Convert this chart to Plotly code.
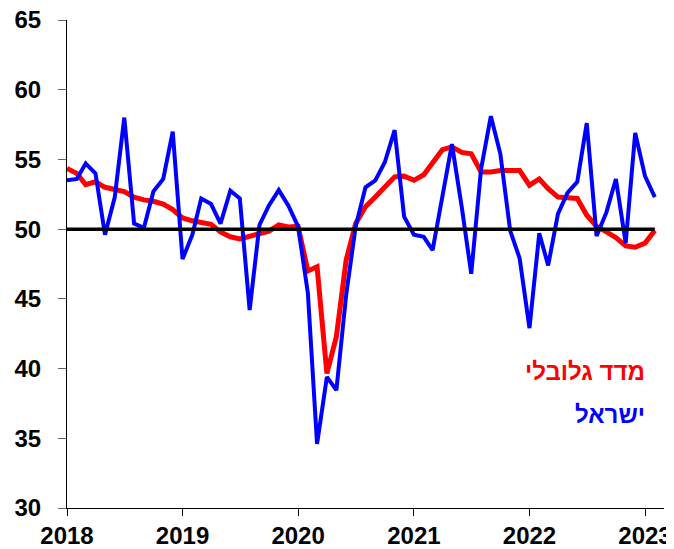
import plotly.graph_objects as go
import pandas as pd

# Monthly dates Jan 2018 .. Feb 2023
months = pd.date_range("2018-01-01", periods=62, freq="MS")

global_index = [
    54.35, 54.0, 53.2, 53.4, 53.0, 52.85, 52.7, 52.3, 52.1, 52.0, 51.8, 51.4,
    50.8, 50.6, 50.45, 50.35, 49.8, 49.45, 49.3, 49.5, 49.75, 49.85, 50.3, 50.15,
    50.2, 47.0, 47.3, 39.65, 42.3, 47.8, 50.4, 51.6, 52.3, 53.0, 53.75, 53.8,
    53.5, 53.9, 54.8, 55.7, 55.9, 55.5, 55.4, 54.1, 54.1, 54.2, 54.2, 54.2,
    53.15, 53.6, 52.9, 52.3, 52.25, 52.2, 51.0, 50.2, 49.8, 49.4, 48.8, 48.7,
    49.0, 49.9,
]

israel = [
    53.5, 53.6, 54.7, 54.0, 49.6, 52.3, 58.0, 50.4, 50.1, 52.7, 53.6, 57.0,
    47.85, 49.6, 52.2, 51.8, 50.4, 52.75, 52.2, 44.2, 50.3, 51.7, 52.8, 51.7,
    50.2, 45.4, 34.6, 39.4, 38.45, 45.3, 50.2, 53.0, 53.5, 54.8, 57.1, 50.9,
    49.6, 49.45, 48.5, 52.3, 56.1, 51.6, 46.8, 54.3, 58.1, 55.4, 49.9, 47.9,
    42.9, 49.7, 47.4, 51.1, 52.6, 53.4, 57.6, 49.5, 51.2, 53.6, 49.0, 56.9,
    53.8, 52.3,
]

threshold = [50] * len(months)

year_ticks = ["2018-01-01", "2019-01-01", "2020-01-01", "2021-01-01", "2022-01-01", "2023-01-01"]
year_labels = ["2018", "2019", "2020", "2021", "2022", "2023"]
y_ticks = [30, 35, 40, 45, 50, 55, 60, 65]

label_global = "מדד גלובלי"
label_israel = "ישראל"

FONT = "Liberation Sans, Arial, sans-serif"

fig = go.Figure()
fig.add_trace(go.Scatter(x=months, y=global_index, mode="lines",
                         line=dict(color="#ff0000", width=5), name=label_global))
fig.add_trace(go.Scatter(x=months, y=israel, mode="lines",
                         line=dict(color="#0000ff", width=4), name=label_israel))
fig.add_trace(go.Scatter(x=months, y=threshold, mode="lines",
                         line=dict(color="#000000", width=3.5), showlegend=False))

fig.add_annotation(x=0.971, y=39.8, xref="paper", yref="y", text=label_global,
                   showarrow=False, xanchor="right", yanchor="middle",
                   font=dict(family=FONT, size=24, color="#ff0000", weight="bold"))
fig.add_annotation(x=0.971, y=36.7, xref="paper", yref="y", text=label_israel,
                   showarrow=False, xanchor="right", yanchor="middle",
                   font=dict(family=FONT, size=24, color="#0000ff", weight="bold"))

fig.update_layout(
    width=666, height=541,
    margin=dict(l=59, r=10, t=12, b=41, autoexpand=False),
    plot_bgcolor="white", paper_bgcolor="white",
    showlegend=False,
    font=dict(family=FONT, size=24, color="black", weight="bold"),
    xaxis=dict(
        type="date",
        range=["2018-01-01", "2023-03-02"],
        tickvals=year_ticks, ticktext=year_labels,
        showgrid=False, zeroline=False, automargin=False,
        showline=True, linecolor="black", linewidth=1,
        ticks="outside", ticklen=7, tickwidth=1, tickcolor="black",
        ticklabelstandoff=-1, ticklabeloverflow="allow",
        tickfont=dict(family=FONT, size=24, color="black", weight="bold"),
    ),
    yaxis=dict(
        range=[30, 65],
        tickvals=y_ticks,
        showgrid=False, zeroline=False, automargin=False,
        showline=True, linecolor="black", linewidth=1,
        ticks="outside", ticklen=8, tickwidth=1, tickcolor="#666666",
        ticklabelstandoff=12, ticklabeloverflow="allow",
        tickfont=dict(family=FONT, size=24, color="black", weight="bold"),
    ),
)

fig.write_html("out.html")
